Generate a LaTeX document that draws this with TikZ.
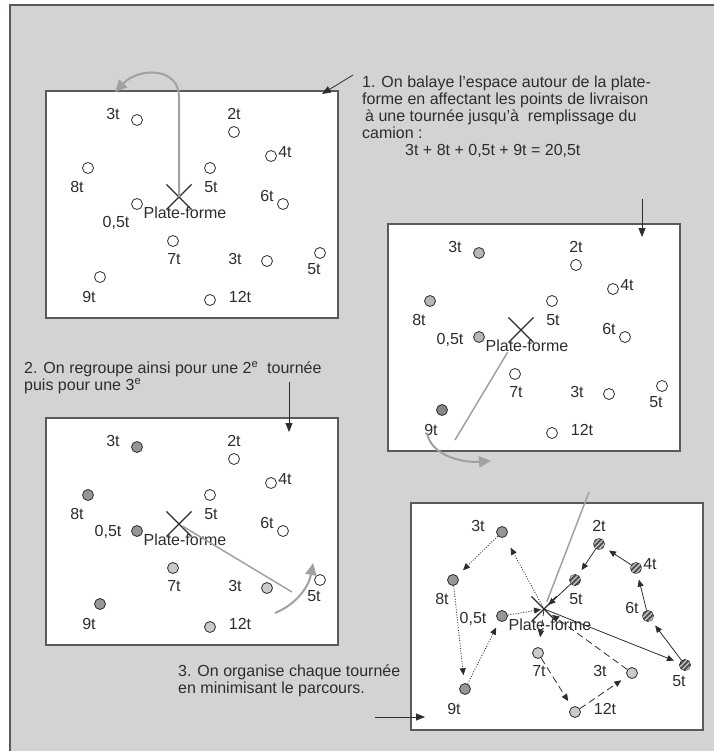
\documentclass[tikz,border=0pt]{standalone}
\usepackage{fontspec}
\setmainfont{Liberation Sans}
\usetikzlibrary{arrows.meta,patterns.meta,shapes.misc}

\definecolor{fond}{RGB}{210,211,211}
\definecolor{cadre}{RGB}{90,90,90}
\definecolor{encre}{RGB}{45,45,45}
\definecolor{balai}{RGB}{160,162,162}
\definecolor{gris1}{RGB}{150,150,150}
\definecolor{gris2}{RGB}{202,202,202}
\definecolor{gris3}{RGB}{182,182,182}
\definecolor{gris4}{RGB}{135,135,135}
\definecolor{raye}{RGB}{80,80,80}

\tikzset{
  txt/.style={font=\fontsize{16}{17}\selectfont,text=encre,inner sep=0pt,align=left},
  lbl/.style={font=\fontsize{16}{17}\selectfont,text=encre,inner sep=0pt},
  livr/.style={circle,draw=encre,line width=0.8pt,minimum size=11pt,inner sep=0pt,fill=white},
  vide/.style={},
  clair/.style={fill=gris2},
  moyen/.style={fill=gris1},
  pale/.style={fill=gris3},
  fonce/.style={fill=gris4},
  raye/.style={fill=raye,postaction={pattern={Lines[angle=45,distance=3.6pt,line width=1.3pt]},pattern color=gris2}},
  plan/.style={draw=cadre,line width=1.1pt,fill=white},
  pointeur/.style={draw=encre,line width=0.8pt,-{Triangle[length=9pt,width=7pt]}},
  balayage/.style={draw=balai,line width=2pt},
  fleche/.style={balayage,-{Triangle[length=12pt,width=11pt]}},
  tour/.style={draw=encre,line width=0.8pt,-{Triangle[length=7pt,width=6pt]},shorten >=4pt},
  tourA/.style={tour,dash pattern=on 1pt off 1.6pt},
  tourB/.style={tour,dash pattern=on 7pt off 4pt},
  tourC/.style={tour},
}

% #1 prefix, #2 plate-forme, #3-#6 fills, #7 place of 0,5t, #8 extras
\newcommand\plan[8]{%
  \begin{scope}[shift={#2},name prefix=#1-]
    \path[plan] (-133,-106) rectangle (159,121);
    \node[cross out,draw=encre,line width=1.2pt,minimum size=24pt,inner sep=0pt] (pf) at (0,0) {};
    \node[lbl] (lpf) at (6,16) {Plate-forme};
    \node[livr,#3] (p3) at (-42,-77) {};  \node[lbl] (l3) at (-66,-83) {3t};
    \node[livr,#6] (p2) at (55,-65) {};   \node[lbl] (l2) at (55,-83) {2t};
    \node[livr,#6] (p4) at (92,-41) {};   \node[lbl] (l4) at (106,-45) {4t};
    \node[livr,#3] (p8) at (-91,-29) {};  \node[lbl] (l8) at (-102,-10) {8t};
    \node[livr,#6] (p5) at (31,-29) {};   \node[lbl] (l5) at (32,-10) {5t};
    \node[livr,#3] (p05) at (-42,7) {};   \node[lbl] (l05) at #7 {0,5t};
    \node[livr,#6] (p6) at (104,7) {};    \node[lbl] (l6) at (88,-1) {6t};
    \node[livr,#5] (p7) at (-6,44) {};    \node[lbl] (l7) at (-5,62) {7t};
    \node[livr,#5] (p3b) at (88,64) {};   \node[lbl] (l3b) at (56,62) {3t};
    \node[livr,#6] (p5b) at (141,56) {};  \node[lbl] (l5b) at (135,72) {5t};
    \node[livr,#4] (p9) at (-79,80) {};   \node[lbl] (l9) at (-90,100) {9t};
    \node[livr,#5] (p12) at (31,103) {};  \node[lbl] (l12) at (61,100) {12t};
    #8
  \end{scope}}

\begin{document}
\begin{tikzpicture}[x=1pt,y=-1pt]
  \useasboundingbox (0,0) rectangle (714,751);
  \fill[fond] (10,5) rectangle (714,751);
  \draw[cadre,line width=1.5pt] (10,751) -- (10,5) -- (714,5);

  % first sweep
  \plan{a}{(179,197)}{vide}{vide}{vide}{vide}{(-63,26)}{
    \coordinate (bh) at (0,-100);
    \coordinate (bt) at (-64,-105);
    \draw[fleche] (pf.center) -- (bh) .. controls (0,-130) and (-40,-130) .. (bt);
  }
  \plan{b}{(521,330)}{pale}{fonce}{vide}{vide}{(-71,10)}{
    \coordinate (bh) at (-66,110);
    \coordinate (ba) at (-94,103);
    \coordinate (bt) at (-30,131);
    \draw[balayage,line width=1.5pt,shorten <=26pt] (pf.center) -- (bh);
    \draw[fleche] (ba) .. controls (-90,125) and (-60,133) .. (bt);
  }
  \plan{c}{(179,524)}{moyen}{moyen}{clair}{vide}{(-71,8)}{
    \coordinate (bh) at (113,68);
    \coordinate (ba) at (96,89);
    \coordinate (bt) at (134,39);
    \draw[balayage,line width=1.5pt,shorten <=4pt] (pf.center) -- (bh);
    \draw[fleche] (ba) .. controls (118,80) and (130,62) .. (bt);
  }
  \plan{d}{(544,609)}{moyen}{moyen}{clair}{raye}{(-71,10)}{
    \coordinate (bh) at (45,-117);
    \draw[balayage,line width=1.5pt,shorten >=8pt] (bh) -- (pf.center);
  }

  % the three tours
  \draw[tourA,shorten >=12pt] (d-pf.center) -- (d-p3);
  \draw[tourA,shorten >=8pt] (d-p3) -- (d-p8);
  \draw[tourA,shorten >=8pt] (d-p8) -- (d-p9);
  \draw[tourA,shorten >=7pt] (d-p9) -- (d-p05);
  \draw[tourA,shorten >=3pt] (d-p05) -- (d-pf.center);
  \draw[tourB,shorten >=10pt] (d-pf.center) -- (d-p7);
  \draw[tourB,shorten >=7pt] (d-p7) -- (d-p12);
  \draw[tourB,shorten >=7pt] (d-p12) -- (d-p3b);
  \draw[tourB,shorten >=10pt] (d-p3b) -- (d-pf.center);
  \draw[tourC,shorten >=6pt] (d-pf.center) -- (d-p5b);
  \draw[tourC,shorten >=6pt] (d-p5b) -- (d-p6);
  \draw[tourC,shorten >=6pt] (d-p6) -- (d-p4);
  \draw[tourC,shorten >=6pt] (d-p4) -- (d-p2);
  \draw[tourC,shorten >=6pt] (d-p2) -- (d-p5);
  \draw[tourC,shorten >=6pt] (d-p5) -- (d-pf.center);

  % comments and pointers
  \node[txt,anchor=north west] (t1) at (362,76) {1. On balaye l’espace autour de la plate-\\forme en affectant les points de livraison\\\hspace*{3pt}à une tournée jusqu’à\ \ remplissage du\\camion :\\\hspace*{43pt}3t + 8t + 0,5t + 9t = 20,5t};
  \node[txt,anchor=north west] (t2) at (24,361) {2. On regroupe ainsi pour une 2\textsuperscript{e}\ \ tournée\\puis pour une 3\textsuperscript{e}};
  \node[txt,anchor=north west] (t3) at (178,665) {3. On organise chaque tournée\\en minimisant le parcours.};

  \coordinate (f1a) at (353,75);  \coordinate (f1b) at (322,94);
  \coordinate (f2a) at (642,199); \coordinate (f2b) at (642,237);
  \coordinate (f3a) at (289,382); \coordinate (f3b) at (289,432);
  \coordinate (f4a) at (375,717); \coordinate (f4b) at (425,717);
  \draw[pointeur] (f1a) -- (f1b);
  \draw[pointeur] (f2a) -- (f2b);
  \draw[pointeur] (f3a) -- (f3b);
  \draw[pointeur] (f4a) -- (f4b);
\end{tikzpicture}
\end{document}
